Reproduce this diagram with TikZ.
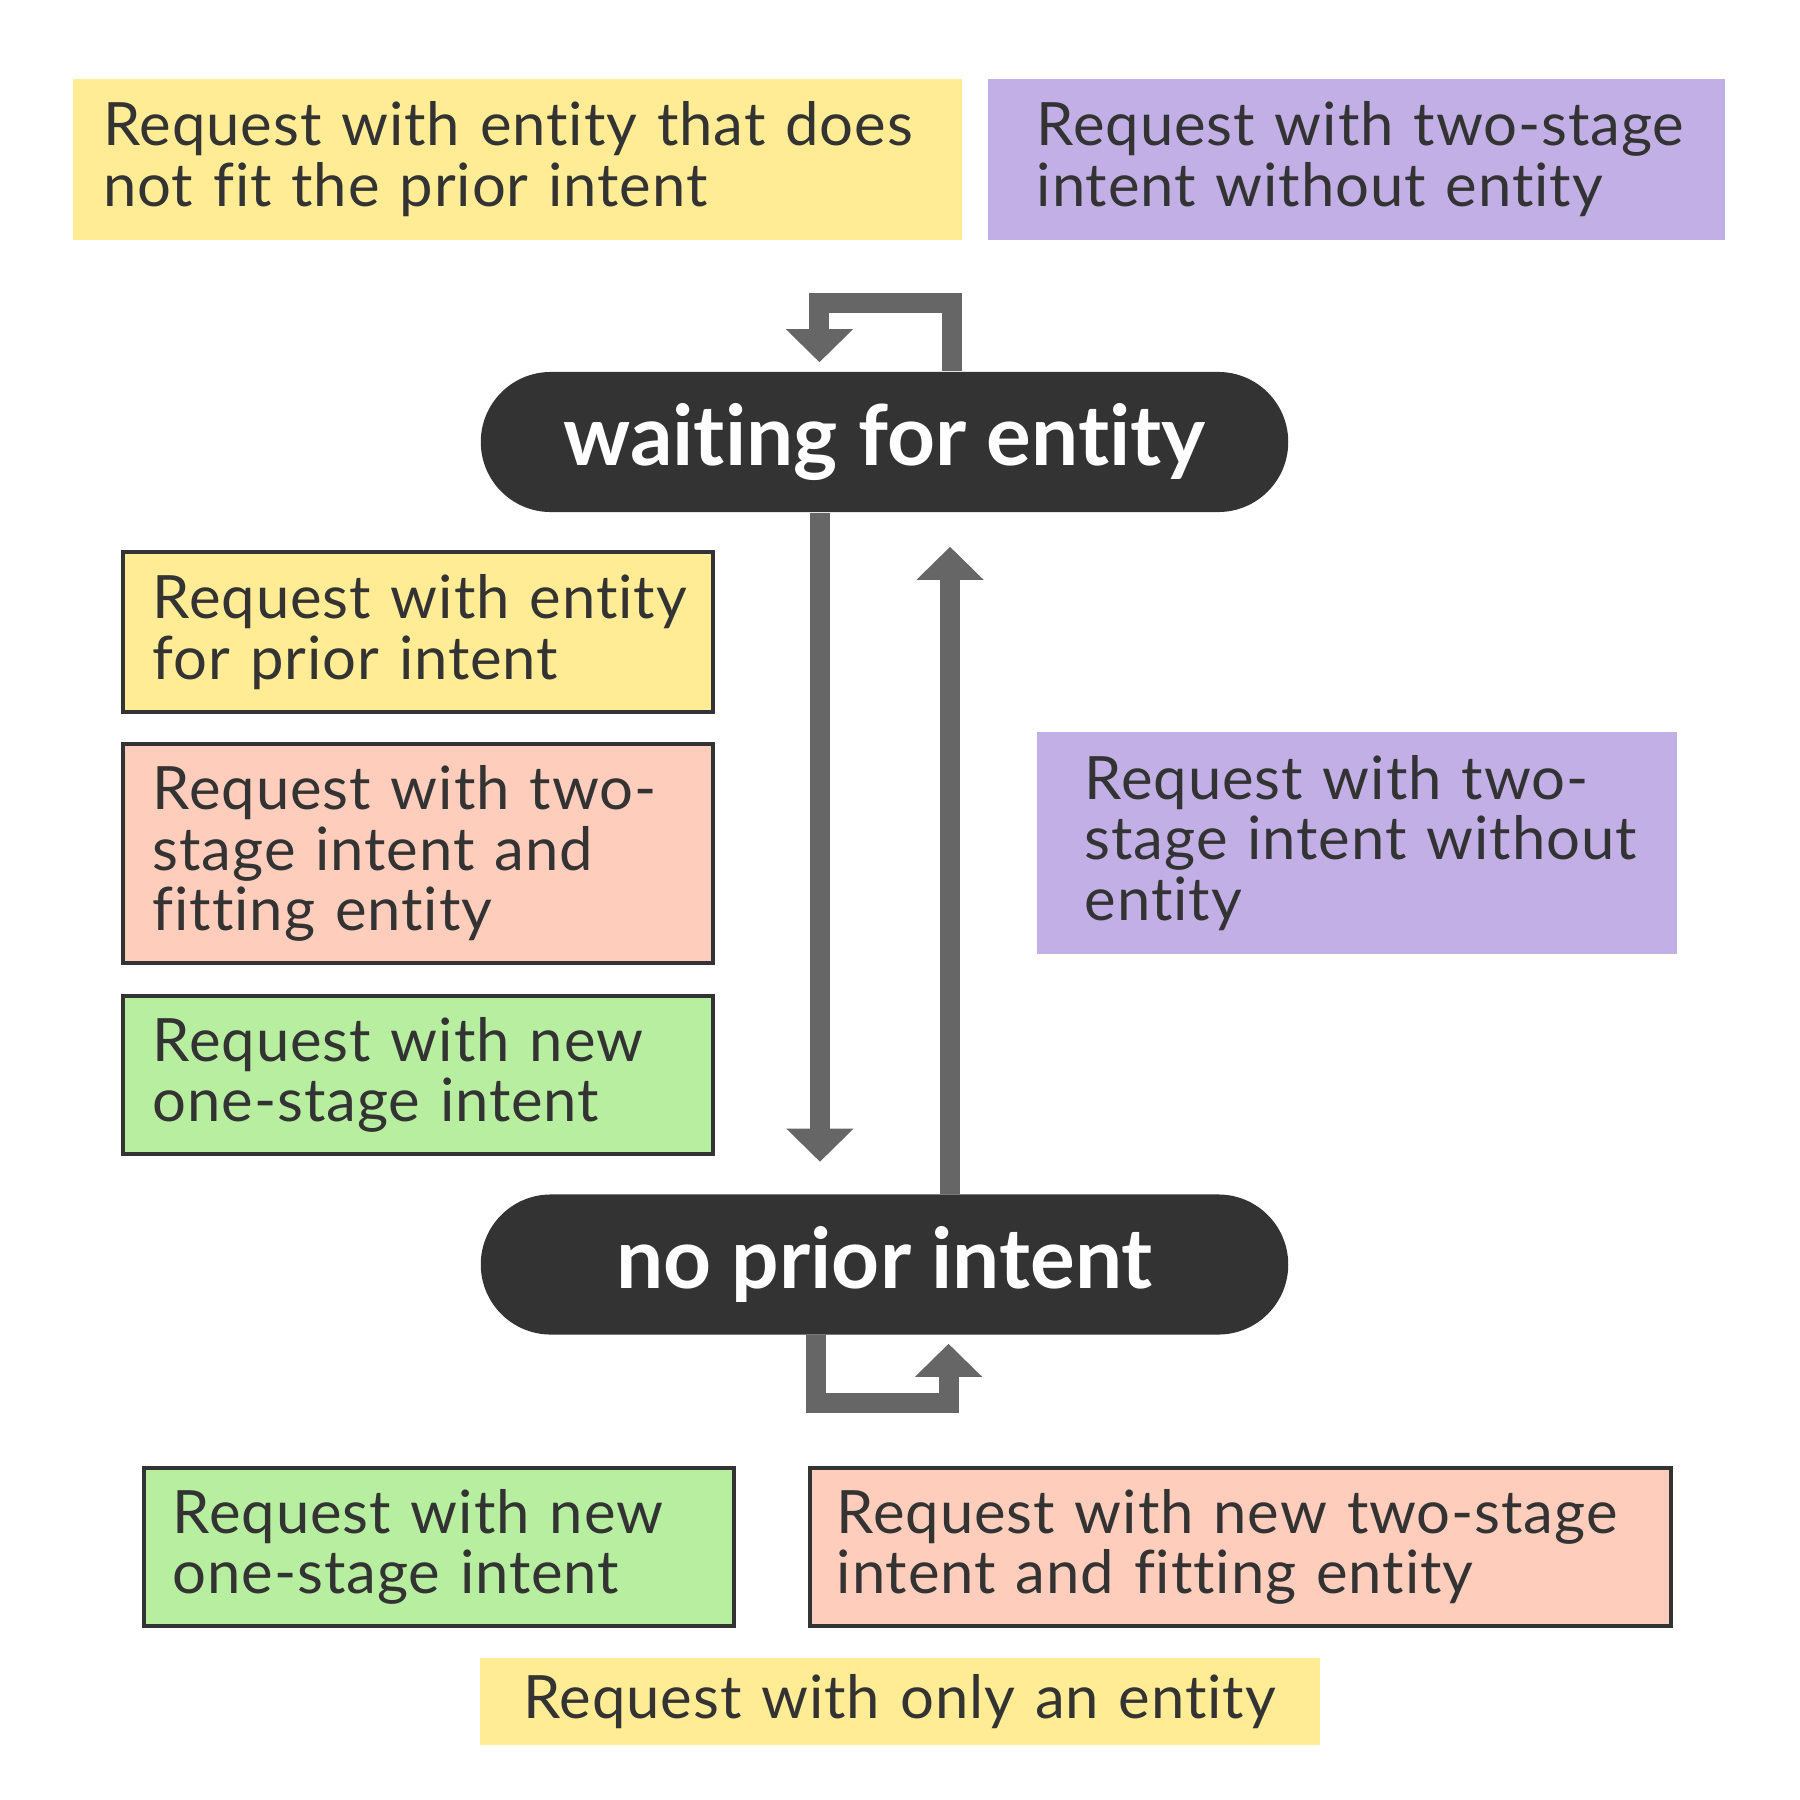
\documentclass[tikz,border=0pt]{standalone}
\usepackage{fontspec}
\setmainfont[Ligatures=NoCommon, LetterSpace=1.5]{Lato}
\usetikzlibrary{arrows.meta}

\definecolor{ink}{HTML}{333333}
\definecolor{arrowgray}{HTML}{666666}
\definecolor{reqyellow}{HTML}{FFEC94}
\definecolor{reqpurple}{HTML}{C1AFE5}
\definecolor{reqsalmon}{HTML}{FFCDBB}
\definecolor{reqgreen}{HTML}{B8EEA0}

\tikzset{
  req/.style={fill=#1, text=ink, align=left, inner ysep=0pt,
    font=\fontsize{17}{17.3}\selectfont},
  framed/.style={draw=ink, line width=0.04cm},
  state/.style={fill=ink, text=white, rounded corners=0.7cm,
    minimum width=8.07cm, minimum height=1.4cm,
    font=\bfseries\fontsize{23.8}{26}\selectfont\addfontfeature{LetterSpace=0}},
  flow/.style={draw=arrowgray, line width=0.2cm, line join=miter,
    -{Triangle[width=0.65cm,length=0.33cm]}},
}

\begin{document}
\begin{tikzpicture}[x=0.01cm, y=-0.01cm]
  \useasboundingbox (0,0) rectangle (1800,1800);

  % the two states
  \node[state] (wait) at (884.5,442) {waiting for entity};
  \node[state] (none) at (884.5,1264.5) {no prior intent};

  % transitions
  \draw[flow] ([xshift=0.675cm]wait.north) -- ++(0,-68.5)
    -| ([xshift=-0.65cm,yshift=0.09cm]wait.north);
  \draw[flow] ([xshift=-0.645cm]wait.south) -- ([xshift=-0.645cm,yshift=0.32cm]none.north);
  \draw[flow] ([xshift=0.655cm]none.north) -- ([xshift=0.655cm,yshift=-0.34cm]wait.south);
  \draw[flow] ([xshift=-0.685cm]none.south) -- ++(0,68)
    -| ([xshift=0.64cm,yshift=-0.085cm]none.south);

  % labels of the loop on top
  \node[req=reqyellow, minimum width=8.885cm, minimum height=1.61cm,
    inner xsep=0.3cm, text width=8.285cm] (noFit) at (517.75,159.5)
    {Request with entity that does\\ not fit the prior intent};
  \node[req=reqpurple, minimum width=7.37cm, minimum height=1.61cm,
    inner xsep=0.49cm, text width=6.39cm] (twoStageTop) at (1356.5,159.5)
    {\mbox{Request with two-stage}\\ intent without entity};

  % labels of the way down
  \node[req=reqyellow, framed, minimum width=5.9cm, minimum height=1.6cm,
    inner xsep=0.3cm, text width=5.3cm] (entityFit) at (418,632)
    {\mbox{Request with entity}\\ for prior intent};
  \node[req=reqsalmon, framed, minimum width=5.9cm, minimum height=2.19cm,
    inner xsep=0.3cm, text width=5.3cm] (twoStageFit) at (418,853.5)
    {Request with two-\\ stage intent and\\ fitting entity};
  \node[req=reqgreen, framed, minimum width=5.9cm, minimum height=1.58cm,
    inner xsep=0.3cm, text width=5.3cm] (oneStage) at (418,1075)
    {Request with new\\ one-stage intent};

  % label of the way up
  \node[req=reqpurple, minimum width=6.4cm, minimum height=2.22cm,
    inner xsep=0.48cm, text width=5.44cm] (twoStageWait) at (1357,843)
    {Request with two-\\ \mbox{stage intent without}\\ entity};

  % labels of the loop at the bottom
  \node[req=reqgreen, framed, minimum width=5.9cm, minimum height=1.58cm,
    inner xsep=0.29cm, text width=5.32cm] (oneStageNew) at (439,1547)
    {Request with new\\ one-stage intent};
  \node[req=reqsalmon, framed, minimum width=8.61cm, minimum height=1.58cm,
    inner xsep=0.27cm, text width=8.07cm] (twoStageNew) at (1240.5,1547)
    {Request with new two-stage\\ intent and fitting entity};
  \node[req=reqyellow, minimum width=8.4cm, minimum height=0.87cm,
    inner xsep=0.435cm, text width=7.53cm] (onlyEntity) at (900,1701.5)
    {Request with only an entity};
\end{tikzpicture}
\end{document}
